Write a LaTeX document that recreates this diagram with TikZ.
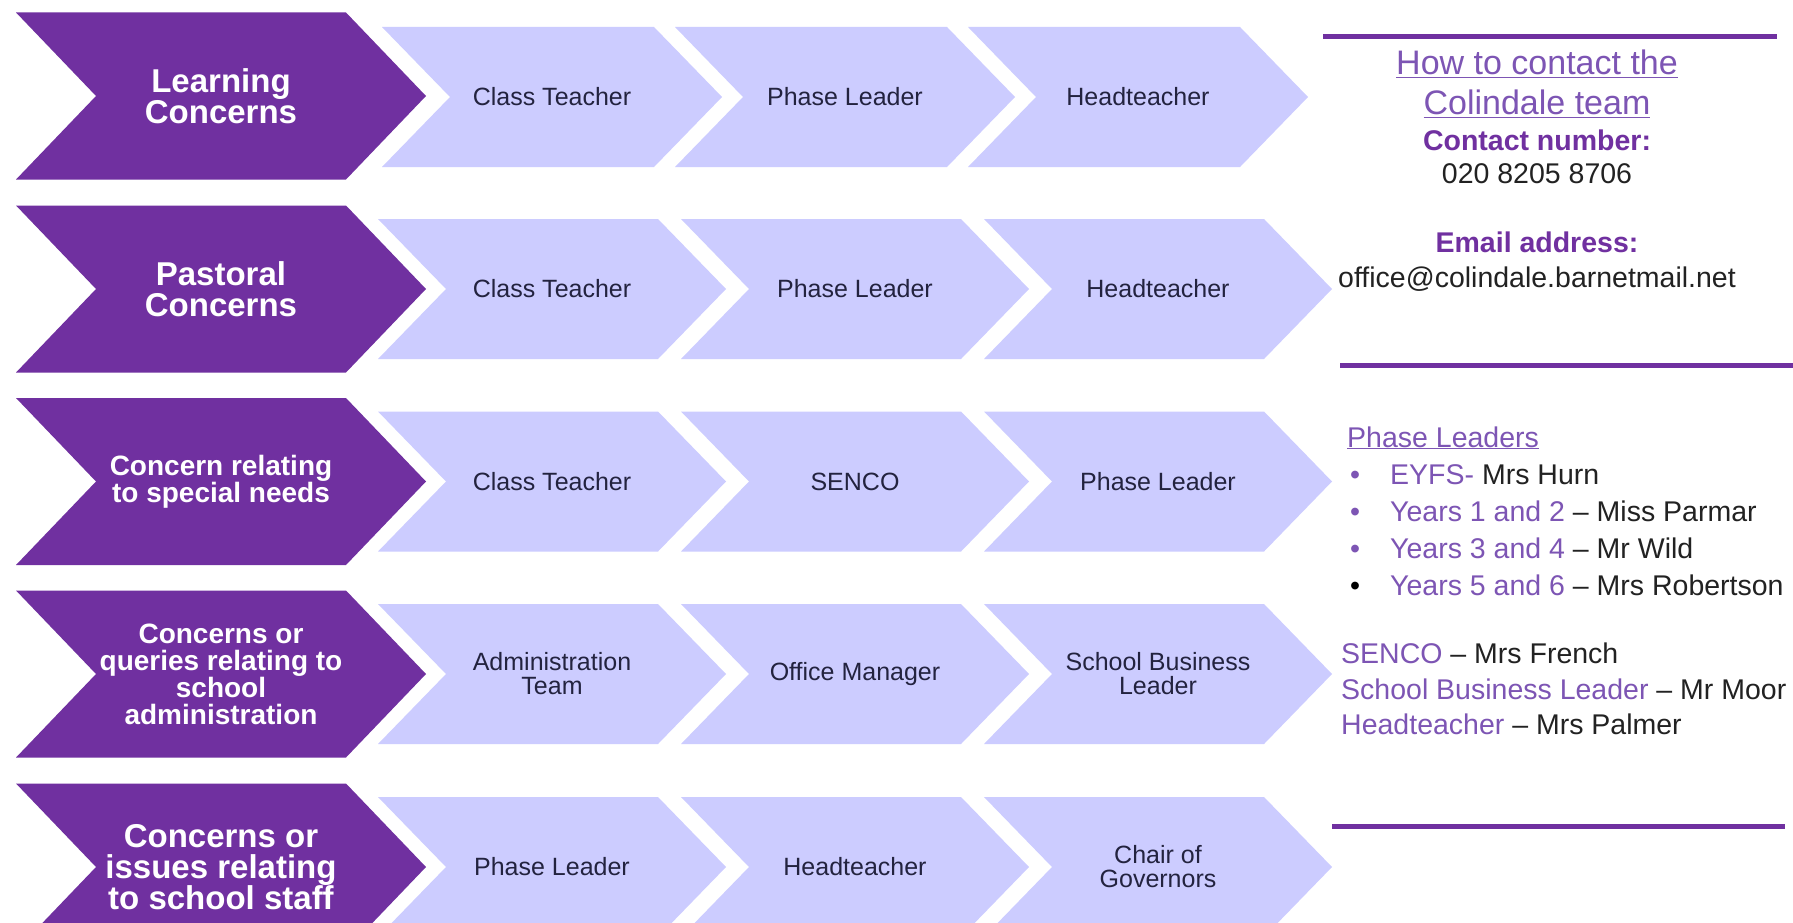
\documentclass[tikz,border=0pt]{standalone}
\usepackage{fontspec}
\setmainfont{Liberation Sans}

\definecolor{deeppurple}{HTML}{7030A0}
\definecolor{lavender}{HTML}{CCCCFF}
\definecolor{softpurple}{HTML}{7D55B4}
\definecolor{inkblue}{HTML}{23233F}
\definecolor{textgrey}{HTML}{222222}

% 矢印の形 (色, 中心x, 中心y, 半幅, 半高, 切れ込み)
\newcommand{\chevshape}[6]{%
  \fill[#1] (#2-#4,#3-#5) -- (#2+#4-#6,#3-#5) -- (#2+#4,#3)
    -- (#2+#4-#6,#3+#5) -- (#2-#4,#3+#5) -- (#2-#4+#6,#3) -- cycle;}

\tikzset{
  topic/.style={text=white, align=center, font=\bfseries\fontsize{33}{31}\selectfont},
  smalltopic/.style={topic, font=\bfseries\fontsize{28}{27}\selectfont},
  stage/.style={text=inkblue, align=center, font=\fontsize{25}{24}\selectfont},
  contact/.style={anchor=base, inner sep=0pt, text=textgrey, font=\fontsize{28.5}{34}\selectfont},
  listitem/.style={anchor=base west, inner sep=0pt, text=textgrey, font=\fontsize{28.5}{34}\selectfont},
  purplerule/.style={deeppurple, line width=5pt}
}

\begin{document}
\begin{tikzpicture}[x=1pt, y=-1pt]
    \useasboundingbox (0,0) rectangle (1793,923);
    \clip (0,0) rectangle (1793,923);
    \fill[white] (0,0) rectangle (1793,923);

    % 濃い矢印
    \chevshape{deeppurple}{221}{96}{205}{83.5}{80}
    \chevshape{deeppurple}{221}{289}{205}{83.5}{80}
    \chevshape{deeppurple}{221}{481.5}{205}{83.5}{80}
    \chevshape{deeppurple}{221}{674}{205}{83.5}{80}
    \chevshape{deeppurple}{221}{867}{205}{83.5}{80}

    % 薄い矢印
    \chevshape{lavender}{552}{97}{170}{70}{68}
    \chevshape{lavender}{845}{97}{170}{70}{68}
    \chevshape{lavender}{1138}{97}{170}{70}{68}
    \chevshape{lavender}{552}{289}{174}{70}{68}
    \chevshape{lavender}{855}{289}{174}{70}{68}
    \chevshape{lavender}{1158}{289}{174}{70}{68}
    \chevshape{lavender}{552}{481.5}{174}{70}{68}
    \chevshape{lavender}{855}{481.5}{174}{70}{68}
    \chevshape{lavender}{1158}{481.5}{174}{70}{68}
    \chevshape{lavender}{552}{674}{174}{70}{68}
    \chevshape{lavender}{855}{674}{174}{70}{68}
    \chevshape{lavender}{1158}{674}{174}{70}{68}
    \chevshape{lavender}{552}{867}{174}{70}{68}
    \chevshape{lavender}{855}{867}{174}{70}{68}
    \chevshape{lavender}{1158}{867}{174}{70}{68}

    % 線を引く
    \draw[purplerule] (1323,37) -- (1777,37);
    \draw[purplerule] (1340,365) -- (1793,365);
    \draw[purplerule] (1332,826) -- (1785,826);

    % 左の見出し
    \node[topic] (learn) at (221,96) {Learning\\Concerns};
    \node[topic] (pastoral) at (221,289) {Pastoral\\Concerns};
    \node[smalltopic] (send) at (221,481.5) {Concern relating\\to special needs};
    \node[smalltopic] (admin) at (221,674) {Concerns or\\queries relating to\\school\\administration};
    \node[topic] (staff) at (221,867) {Concerns or\\issues relating\\to school staff};

    % 順番
    \node[stage] (learn1) at (552,97) {Class Teacher};
    \node[stage] (learn2) at (845,97) {Phase Leader};
    \node[stage] (learn3) at (1138,97) {Headteacher};
    \node[stage] (pastoral1) at (552,289) {Class Teacher};
    \node[stage] (pastoral2) at (855,289) {Phase Leader};
    \node[stage] (pastoral3) at (1158,289) {Headteacher};
    \node[stage] (send1) at (552,481.5) {Class Teacher};
    \node[stage] (send2) at (855,481.5) {SENCO};
    \node[stage] (send3) at (1158,481.5) {Phase Leader};
    \node[stage] (admin1) at (552,674) {Administration\\Team};
    \node[stage] (admin2) at (855,674) {Office Manager};
    \node[stage] (admin3) at (1158,674) {School Business\\Leader};
    \node[stage] (staff1) at (552,867) {Phase Leader};
    \node[stage] (staff2) at (855,867) {Headteacher};
    \node[stage] (staff3) at (1158,867) {Chair of\\Governors};

    % 連絡先
    \node[contact, text=softpurple, font=\fontsize{34}{40}\selectfont] (howto) at (1537,75) {\underline{How to contact the}};
    \node[contact, text=softpurple, font=\fontsize{34}{40}\selectfont] (team) at (1537,115) {\underline{Colindale team}};
    \node[contact, text=deeppurple, font=\bfseries\fontsize{28.5}{34}\selectfont] (numlabel) at (1537,150) {Contact number:};
    \node[contact] (num) at (1537,183) {020 8205 8706};
    \node[contact, text=deeppurple, font=\bfseries\fontsize{28.5}{34}\selectfont] (maillabel) at (1537,252) {Email address:};
    \node[contact] (mail) at (1537,287) {office@colindale.barnetmail.net};

    % 担当者
    \node[listitem, text=softpurple] (phase) at (1347,447) {\underline{Phase Leaders}};
    \node[listitem, text=softpurple] (dot1) at (1350,484) {•};
    \node[listitem, text=softpurple] (dot2) at (1350,521) {•};
    \node[listitem, text=softpurple] (dot3) at (1350,558) {•};
    \node[listitem, text=black] (dot4) at (1350,595) {•};
    \node[listitem] (eyfs) at (1390,484) {\textcolor{softpurple}{EYFS-} Mrs Hurn};
    \node[listitem] (y12) at (1390,521) {\textcolor{softpurple}{Years 1 and 2} – Miss Parmar};
    \node[listitem] (y34) at (1390,558) {\textcolor{softpurple}{Years 3 and 4} – Mr Wild};
    \node[listitem] (y56) at (1390,595) {\textcolor{softpurple}{Years 5 and 6} – Mrs Robertson};
    \node[listitem] (senco) at (1341,663) {\textcolor{softpurple}{SENCO} – Mrs French};
    \node[listitem] (sbl) at (1341,699) {\textcolor{softpurple}{School Business Leader} – Mr Moor};
    \node[listitem] (head) at (1341,734) {\textcolor{softpurple}{Headteacher} – Mrs Palmer};

\end{tikzpicture}
\end{document}
